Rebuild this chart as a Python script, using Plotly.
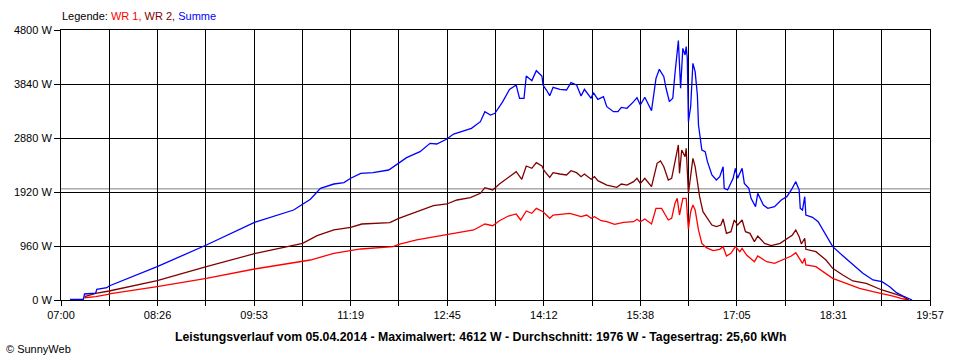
import plotly.graph_objects as go

# ---------------- data ----------------
wr1_times = ["07:21","07:31","07:42","07:43","08:26","09:10","09:53","10:36","10:43","11:04",
             "11:19","11:28","11:57","12:02","12:18","12:45","12:54","13:09","13:19","13:26",
             "13:32","13:40","13:47","13:51","13:56","14:01","14:05","14:11","14:17","14:20",
             "14:35","14:45","14:50","14:54","14:57","15:03","15:08","15:15","15:23","15:32",
             "15:35","15:38","15:42","15:48","15:52","15:57","16:03","16:06","16:09","16:11",
             "16:13","16:16","16:19","16:21","16:23","16:25","16:27","16:30","16:33","16:37",
             "16:43","16:49","16:52","16:55","16:59","17:03","17:07","17:09","17:13","17:20",
             "17:23","17:31","17:38","17:47","17:53","17:57","18:00","18:03","18:05","18:06",
             "18:15","18:24","18:30","18:42","18:54","19:06","19:14","19:24","19:31","19:36","19:37"]
wr1 = [40,60,100,107,237,385,551,693,711,830,
       871,907,948,990,1067,1156,1185,1245,1351,1321,
       1410,1493,1529,1422,1582,1541,1630,1570,1452,1511,
       1541,1481,1511,1452,1481,1410,1392,1345,1381,1392,
       1434,1392,1440,1351,1630,1630,1422,1452,1719,1808,
       1511,1808,1808,1257,1570,1689,1600,1245,1007,930,
       877,901,948,782,830,948,859,919,800,681,
       782,681,652,723,782,841,741,652,741,622,
       593,474,385,296,207,148,119,71,30,12,0]

wr2_times = ["07:21","07:31","07:43","08:26","09:10","09:53","10:36","10:43","10:49","11:04",
             "11:19","11:29","11:54","12:02","12:12","12:33","12:45","12:54","13:06","13:15",
             "13:19","13:26","13:32","13:38","13:47","13:52","13:56","14:01","14:05","14:10",
             "14:12","14:17","14:20","14:26","14:32","14:36","14:41","14:45","14:48","14:54",
             "14:57","15:00","15:08","15:17","15:21","15:26","15:32","15:35","15:38","15:42",
             "15:45","15:48","15:53","15:56","15:59","16:03","16:06","16:09","16:12","16:13",
             "16:15","16:18","16:19","16:21","16:23","16:25","16:27","16:29","16:30","16:31",
             "16:34","16:37","16:42","16:46","16:50","16:52","16:55","16:59","17:02","17:05",
             "17:09","17:12","17:16","17:20","17:23","17:29","17:35","17:43","17:49","17:54",
             "17:57","18:00","18:02","18:05","18:06","18:15","18:24","18:30","18:39","18:48",
             "19:00","19:14","19:24","19:33","19:37","19:38"]
wr2 = [59,119,160,344,593,823,1007,1084,1144,1245,
       1292,1351,1375,1452,1529,1677,1707,1778,1819,1897,
       1997,1956,2062,2151,2281,2146,2382,2341,2441,2382,
       2300,2181,2264,2240,2222,2299,2264,2193,2240,2146,
       2193,2121,2044,2003,2062,2044,2104,2164,2074,2164,
       2093,2015,2430,2471,2370,2134,2164,2489,2756,2252,
       2667,2548,2697,1897,2252,2519,2370,2074,1897,1837,
       1570,1481,1333,1304,1333,1440,1185,1215,1422,1333,
       1422,1215,1185,1037,1138,1007,966,1007,1096,1156,
       1245,1126,996,1096,901,859,711,563,445,338,
       296,178,119,59,12,0]

summe_times = ["07:08","07:20","07:21","07:31","07:32","07:41","07:43","08:26","09:10","09:53",
               "10:28","10:36","10:43","10:52","11:04","11:13","11:19","11:28","11:39","11:53",
               "12:02","12:09","12:21","12:30","12:36","12:45","12:51","13:00","13:07","13:15",
               "13:19","13:24","13:28","13:35","13:41","13:47","13:50","13:54","13:56","14:01",
               "14:05","14:10","14:11","14:14","14:17","14:20","14:26","14:32","14:36","14:41",
               "14:45","14:48","14:54","14:56","15:00","15:05","15:08","15:14","15:18","15:21",
               "15:26","15:32","15:35","15:38","15:42","15:45","15:48","15:52","15:55","15:59",
               "16:01","16:04","16:07","16:09","16:12","16:14","16:16","16:18","16:19","16:20",
               "16:21","16:23","16:25","16:27","16:29","16:30","16:33","16:36","16:38","16:42",
               "16:46","16:49","16:52","16:53","16:56","17:01","17:03","17:05","17:09","17:11",
               "17:15","17:17","17:21","17:23","17:28","17:32","17:38","17:44","17:49","17:53",
               "17:57","18:00","18:01","18:03","18:05","18:06","18:12","18:17","18:23","18:30",
               "18:39","18:48","18:57","19:06","19:14","19:21","19:27","19:33","19:37","19:40","19:41"]
summe = [10,10,107,120,190,219,249,593,978,1381,
         1600,1707,1790,1986,2062,2086,2164,2252,2264,2311,
         2430,2530,2637,2785,2773,2862,2951,3010,3052,3170,
         3348,3289,3319,3526,3745,3822,3586,3586,3983,3900,
         4077,3983,3822,3733,3633,3781,3745,3733,3864,3822,
         3626,3745,3586,3686,3568,3615,3437,3348,3348,3425,
         3408,3526,3597,3467,3604,3485,3366,3941,4101,3970,
         3764,3526,3586,4030,4612,3764,4474,4356,4504,4296,
         3170,3437,4208,4060,3644,3111,2667,2637,2459,2222,
         2134,2193,2370,1986,1956,2164,2341,2164,2341,2074,
         1986,1808,1659,1897,1689,1630,1659,1778,1837,1956,
         2104,1956,1630,1600,1837,1511,1470,1392,1185,948,
         788,622,474,356,326,237,130,71,30,12,0]

average_w = 1976
x_tick_labels = ["07:00","08:26","09:53","11:19","12:45","14:12","15:38","17:05","18:31","19:57"]
y_tick_values = [0, 960, 1920, 2880, 3840, 4800]

legend_parts = [("Legende: ", "#000000"), ("WR 1, ", "#ff0000"), ("WR 2, ", "#800000"), ("Summe", "#0000ff")]
title_text = ("Leistungsverlauf vom 05.04.2014 - Maximalwert: 4612 W - "
              "Durchschnitt: 1976 W - Tagesertrag: 25,60 kWh")
copyright_text = "© SunnyWeb"


def to_min(t):
    h, m = t.split(":")
    return int(h) * 60 + int(m)


x_start = to_min(x_tick_labels[0])
x_end = to_min(x_tick_labels[-1])
step = (x_end - x_start) / 18.0
major_vals = [x_start + 2 * k * step for k in range(10)]

FONT = "Liberation Sans"

fig = go.Figure()
for times, vals, col, name in [(wr1_times, wr1, "#ff0000", "WR 1"),
                               (wr2_times, wr2, "#800000", "WR 2"),
                               (summe_times, summe, "#0000ff", "Summe")]:
    fig.add_trace(go.Scatter(x=[to_min(t) for t in times], y=vals, mode="lines",
                             line=dict(color=col, width=1.3), name=name,
                             hoverinfo="skip"))

fig.add_shape(type="line", xref="paper", x0=0, x1=1, yref="y", y0=average_w, y1=average_w,
              line=dict(color="#808080", width=1), layer="between")

fig.update_layout(
    width=960, height=360,
    margin=dict(l=61, r=30, t=30, b=60, pad=0),
    paper_bgcolor="white", plot_bgcolor="white",
    showlegend=False,
    font=dict(family=FONT, size=11, color="black"),
    xaxis=dict(range=[x_start, x_end], tickvals=major_vals, ticktext=x_tick_labels,
               showgrid=True, gridcolor="black", gridwidth=1,
               ticks="outside", ticklen=5, tickcolor="black", tickwidth=1,
               showline=True, linecolor="black", linewidth=1, mirror=True,
               zeroline=False,
               minor=dict(tick0=x_start, dtick=step, showgrid=True, gridcolor="black",
                          gridwidth=1, ticks="outside", ticklen=5, tickcolor="black")),
    yaxis=dict(range=[0, 4800], tickvals=y_tick_values,
               ticktext=[f"{v} W" for v in y_tick_values],
               showgrid=True, gridcolor="black", gridwidth=1,
               ticks="outside", ticklen=6, tickcolor="black",
               showline=True, linecolor="black", linewidth=1, mirror=True,
               zeroline=False),
)

legend_html = "".join(f"<span style='color:{c}'>{t}</span>" for t, c in legend_parts)
pw, ph = 869.0, 270.0
fig.add_annotation(text=legend_html, xref="paper", yref="paper",
                   x=(60 - 61) / pw, y=(300 - 16) / ph, xanchor="left", yanchor="middle",
                   showarrow=False, font=dict(family=FONT, size=11))
fig.add_annotation(text=f"<b>{title_text}</b>", xref="paper", yref="paper",
                   x=(480 - 61) / pw, y=(300 - 337) / ph, xanchor="center", yanchor="middle",
                   showarrow=False, font=dict(family=FONT, size=12.3))
fig.add_annotation(text=copyright_text, xref="paper", yref="paper",
                   x=(4 - 61) / pw, y=(300 - 349) / ph, xanchor="left", yanchor="middle",
                   showarrow=False, font=dict(family=FONT, size=11))

fig.write_html("out.html", config={"displayModeBar": False},
               post_script="document.body.style.margin='0';")
